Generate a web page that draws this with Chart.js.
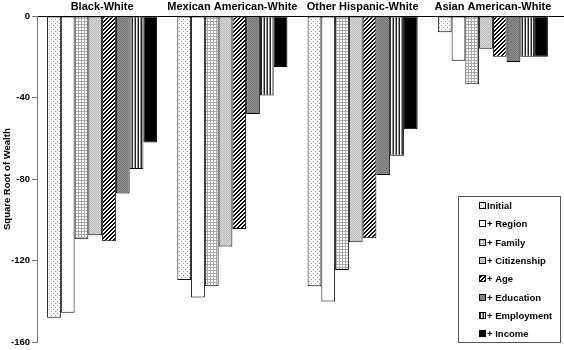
<!DOCTYPE html>
<html lang="en">
<head>
  <meta charset="UTF-8">
  <title>Square Root of Wealth</title>
  <script src="https://cdn.jsdelivr.net/npm/chart.js"></script>
  <style>
    body { margin: 0; background: #fff; }
    canvas { display: block; }
  </style>
</head>
<body>
  <canvas id="wealth-chart" width="564" height="350"></canvas>

  <script>
    // groups and series
    const groups = ['Black-White', 'Mexican American-White', 'Other Hispanic-White', 'Asian American-White'];
    const seriesNames = ['Initial', '+ Region', '+ Family', '+ Citizenship', '+ Age', '+ Education', '+ Employment', '+ Income'];

    // values
    const initial     = [-148, -129.5, -132.5, -8];
    const region      = [-145.5, -138, -140, -22];
    const family      = [-109.5, -132.5, -124.5, -33.5];
    const citizenship = [-107.5, -113, -111, -16];
    const age         = [-110.5, -104.5, -109, -20];
    const education   = [-87, -48, -78, -22.5];
    const employment  = [-75, -39, -68.5, -20];
    const income      = [-62, -25, -55.5, -20];

    const yTicks = [0, -40, -80, -120, -160];

    const FONT = "'Liberation Sans', Arial, sans-serif";

    // small fill patterns like the old print style
    function makePattern(w, h, paint) {
      const c = document.createElement('canvas');
      c.width = w; c.height = h;
      const g = c.getContext('2d');
      for (let y = 0; y < h; y++) {
        for (let x = 0; x < w; x++) {
          g.fillStyle = paint(x, y);
          g.fillRect(x, y, 1, 1);
        }
      }
      return g.createPattern(c, 'repeat');
    }

    const fills = [
      makePattern(4, 4, (x, y) => ((x === 1 && y === 1) || (x === 3 && y === 3)) ? '#9a9a9a' : '#fff'),
      '#fff',
      makePattern(3, 3, (x, y) => (x === 0 || y === 0) ? '#a8a8a8' : '#fff'),
      makePattern(2, 2, (x, y) => ((x + y) % 2) ? '#d6d6d6' : '#bdbdbd'),
      makePattern(4, 4, (x, y) => ((x + y) % 4 < 2) ? '#000' : '#fff'),
      makePattern(2, 2, (x, y) => ((x + y) % 2) ? '#8c8c8c' : '#777'),
      makePattern(3, 1, (x) => ['#222', '#fff', '#999'][x]),
      '#000'
    ];

    const seriesData = [initial, region, family, citizenship, age, education, employment, income];

    const datasets = seriesNames.map((name, i) => ({
      label: name,
      data: seriesData[i],
      backgroundColor: fills[i],
      borderColor: '#000',
      borderWidth: 1,
      borderSkipped: false,
      categoryPercentage: 0.845,
      barPercentage: 1
    }));

    // legend box inside the plot + zero line to the right edge
    const boxLegend = {
      id: 'boxLegend',
      afterDraw(chart) {
        const ctx = chart.ctx;
        const yScale = chart.scales.y;
        const zeroY = Math.round(yScale.getPixelForValue(0)) + 0.5;
        ctx.save();
        ctx.strokeStyle = '#000';
        ctx.lineWidth = 1;
        ctx.beginPath();
        ctx.moveTo(chart.chartArea.right, zeroY);
        ctx.lineTo(chart.width, zeroY);
        ctx.stroke();

        const bx = 458, by = 196, bw = 102, bh = 146;
        ctx.fillStyle = '#fff';
        ctx.fillRect(bx, by, bw, bh);
        ctx.strokeStyle = '#555';
        ctx.strokeRect(bx + 0.5, by + 0.5, bw, bh);

        ctx.font = 'bold 9.5px ' + FONT;
        ctx.textBaseline = 'middle';
        ctx.textAlign = 'left';
        chart.data.datasets.forEach((ds, i) => {
          const cy = 206 + i * 18.3;
          ctx.fillStyle = ds.backgroundColor;
          ctx.fillRect(479, Math.round(cy) - 4, 7, 7);
          ctx.strokeStyle = '#000';
          ctx.strokeRect(479.5, Math.round(cy) - 3.5, 6, 6);
          ctx.fillStyle = '#000';
          ctx.fillText(ds.label, 487, cy + 0.5);
        });
        ctx.restore();
      }
    };

    new Chart(document.getElementById('wealth-chart').getContext('2d'), {
      type: 'bar',
      data: { labels: groups, datasets: datasets },
      options: {
        responsive: false,
        animation: false,
        devicePixelRatio: 1,
        layout: { padding: { left: 0, right: 6, top: 0, bottom: 3 } },
        plugins: {
          legend: { display: false },
          tooltip: { enabled: false }
        },
        scales: {
          x: {
            position: 'top',
            grid: { display: false, drawTicks: false },
            border: { display: true, color: '#000', width: 1 },
            ticks: {
              color: '#000',
              padding: 2,
              maxRotation: 0,
              autoSkip: false,
              font: { family: FONT, size: 11, weight: 'bold' }
            },
            afterFit(scale) { scale.height = 16; }
          },
          y: {
            min: -160,
            max: 0,
            afterBuildTicks(scale) { scale.ticks = yTicks.map(v => ({ value: v })); },
            grid: { display: true, drawOnChartArea: false, drawTicks: true, tickLength: 5, color: '#777' },
            border: { display: true, color: '#777', width: 1 },
            ticks: {
              color: '#000',
              padding: 2,
              font: { family: FONT, size: 9.5, weight: 'bold' }
            },
            title: {
              display: true,
              text: 'Square Root of Wealth',
              color: '#000',
              padding: { top: 2, bottom: 0 },
              font: { family: FONT, size: 9.5, weight: 'bold' }
            },
            afterFit(scale) { scale.width = 37; }
          }
        }
      },
      plugins: [boxLegend]
    });
  </script>
</body>
</html>
